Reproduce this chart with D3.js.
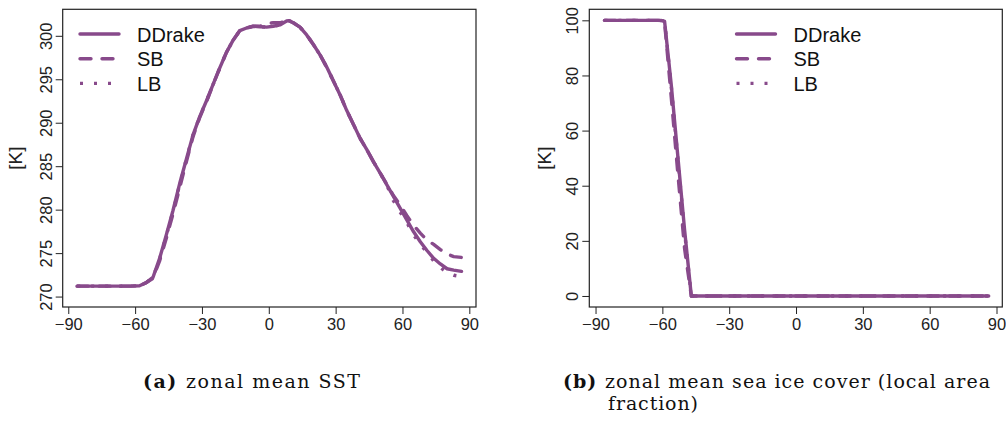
<!DOCTYPE html>
<html>
<head>
<meta charset="utf-8">
<script src="https://cdn.jsdelivr.net/npm/d3@7"></script>
<style>
  body { margin: 0; background: #fff; }
  svg { display: block; }
  .tick text { font-family: "Liberation Sans", Arial, sans-serif; font-size: 16.5px; fill: #222; }
  .tick line { stroke: #222; }
</style>
</head>
<body>
<div class="chart"></div>
<script>
// latitude grid for the zonal mean SST
var sstLat = [-86, -80, -74, -68, -62, -58, -55, -52, -49, -46, -43, -40, -37, -34, -31, -28, -25, -22, -19, -16, -13, -10, -7, -4, -1, 2, 5, 8, 9, 11, 14, 17, 20, 23, 26, 29, 32, 35, 38, 41, 44, 47, 50, 53, 56, 59, 62, 65, 68, 71, 74, 77, 80, 83, 86.5];
var sstDDrake = [271.2, 271.2, 271.2, 271.2, 271.2, 271.25, 271.6, 272.2, 274.4, 277.1, 279.9, 283.0, 285.8, 288.6, 290.7, 292.5, 294.4, 296.3, 298.1, 299.5, 300.6, 300.9, 301.1, 301.05, 301.0, 301.1, 301.25, 301.7, 301.75, 301.5, 301.0, 300.1, 299.0, 297.8, 296.4, 294.8, 293.2, 291.4, 289.8, 288.2, 286.9, 285.5, 284.2, 282.85, 281.5, 280.15, 278.8, 277.45, 276.3, 275.3, 274.4, 273.75, 273.2, 273.05, 272.9];
var sstSB = [271.2, 271.2, 271.2, 271.2, 271.2, 271.25, 271.6, 272.1, 274.1, 276.7, 279.5, 282.5, 285.5, 288.4, 290.6, 292.4, 294.4, 296.3, 298.1, 299.5, 300.6, 300.9, 301.1, 301.1, 301.4, 301.5, 301.5, 301.7, 301.75, 301.5, 301.0, 300.1, 299.0, 297.8, 296.4, 294.8, 293.2, 291.4, 289.8, 288.2, 286.9, 285.5, 284.2, 282.9, 281.6, 280.5, 279.3, 278.2, 277.3, 276.5, 276.0, 275.4, 274.9, 274.6, 274.5];
var sstLB = [271.2, 271.2, 271.2, 271.2, 271.2, 271.25, 271.6, 272.2, 274.3, 277.0, 279.8, 282.9, 285.8, 288.6, 290.7, 292.5, 294.4, 296.3, 298.1, 299.5, 300.6, 300.9, 301.1, 301.05, 301.0, 301.1, 301.25, 301.7, 301.75, 301.5, 301.0, 300.1, 299.0, 297.8, 296.4, 294.8, 293.2, 291.4, 289.8, 288.2, 286.9, 285.5, 284.2, 282.8, 281.0, 279.7, 278.5, 277.1, 276.0, 275.1, 274.1, 273.35, 272.75, 272.45, 272.3];

// latitude grid for the zonal mean sea ice cover
var iceLat = [-86, -80, -74, -68, -62, -60, -59, -56, -53, -50, -47, -44, -30, 0, 30, 60, 86.5];
var iceDDrake = [100, 100, 100, 100, 100, 99.9, 99.6, 76.6, 50.2, 23.8, 0, 0, 0, 0, 0, 0, 0];
var iceSB = [100, 100, 100, 100, 100, 99.9, 99.3, 72, 44, 17, 0, 0, 0, 0, 0, 0, 0];
var iceLB = [100, 100, 100, 100, 100, 99.9, 99.6, 76, 49.5, 23, 0, 0, 0, 0, 0, 0, 0];

var latTicks = [-90, -60, -30, 0, 30, 60, 90];
var sstTicks = [270, 275, 280, 285, 290, 295, 300];
var iceTicks = [0, 20, 40, 60, 80, 100];
var seriesNames = ["DDrake", "SB", "LB"];

var width = 1006, height = 423;
var col = "#884a8b";
var dashes = [null, "11,11", "3,11"];
var caps = ["round", "round", "butt"];

function build_svg(c) {
    return c.append("svg").attr("width", width).attr("height", height);
}

function fmt(d) {
    return d < 0 ? "\u2212" + Math.abs(d) : String(d);
}

function build_panel(s, p) {
    var x = d3.scaleLinear().domain(p.xdom).range([p.left, p.right]);
    var y = d3.scaleLinear().domain(p.ydom).range([p.bottom, p.top]);
    var g = s.append("g");

    // axes (R style, ticks outside the box)
    var xa = g.append("g")
        .attr("transform", "translate(0," + p.bottom + ")")
        .call(d3.axisBottom(x).tickValues(latTicks).tickSize(7).tickFormat(fmt));
    xa.select(".domain").remove();
    xa.selectAll(".tick text").attr("y", 23).attr("dy", 0);

    var ya = g.append("g")
        .attr("transform", "translate(" + p.left + ",0)")
        .call(d3.axisLeft(y).tickValues(p.yticks).tickSize(7));
    ya.select(".domain").remove();
    ya.selectAll(".tick text")
        .attr("transform", "rotate(-90)")
        .attr("x", 0).attr("dy", 0)
        .attr("y", -11)
        .attr("text-anchor", "middle");

    g.append("text")
        .attr("transform", "translate(" + p.labX + "," + ((p.top + p.bottom) / 2) + ") rotate(-90)")
        .attr("text-anchor", "middle")
        .style("font-family", "Liberation Sans, Arial, sans-serif")
        .style("font-size", "19px").style("fill", "#222")
        .text("[K]");

    // box
    g.append("rect")
        .attr("x", p.left).attr("y", p.top)
        .attr("width", p.right - p.left).attr("height", p.bottom - p.top)
        .attr("fill", "none").attr("stroke", "#222").attr("stroke-width", 1.2);

    var line = d3.line()
        .x(function(d) { return x(d[0]); })
        .y(function(d) { return y(d[1]); });

    p.series.forEach(function(vals, i) {
        var pts = p.lat.map(function(l, j) { return [l, vals[j]]; });
        g.append("path")
            .datum(pts)
            .attr("d", line)
            .attr("fill", "none")
            .attr("stroke", col)
            .attr("stroke-width", 3.4)
            .attr("stroke-linejoin", "round")
            .attr("stroke-linecap", caps[i])
            .attr("stroke-dasharray", dashes[i]);
    });

    // legend
    var leg = g.selectAll(".leg").data(seriesNames).enter().append("g")
        .attr("class", "leg")
        .attr("transform", function(d, i) { return "translate(0," + (34 + i * 24.7) + ")"; });
    leg.append("line")
        .attr("x1", p.legX).attr("x2", p.legX + 39)
        .attr("stroke", col).attr("stroke-width", 3.4)
        .attr("stroke-linecap", function(d, i) { return caps[i]; })
        .attr("stroke-dasharray", function(d, i) { return dashes[i]; });
    leg.append("text")
        .attr("x", p.legX + 57).attr("y", 7.5)
        .style("font-family", "Liberation Sans, Arial, sans-serif")
        .style("font-size", "20px").style("fill", "#111")
        .text(function(d) { return d; });
}

function caption(s, x, y, len, bold, rest) {
    var t = s.append("text")
        .attr("x", x).attr("y", y)
        .attr("textLength", len)
        .style("font-family", "DejaVu Serif, serif")
        .style("font-size", "19px").style("fill", "#111");
    if (bold) t.append("tspan").style("font-weight", "bold").text(bold + " ");
    t.append("tspan").text(rest);
}

function main() {
    var svg = build_svg(d3.select(".chart"));
    svg.append("rect").attr("width", width).attr("height", height).attr("fill", "#fff");

    build_panel(svg, {
        left: 62.7, right: 476, top: 9.3, bottom: 307,
        xdom: [-92.5, 93.0], ydom: [268.8, 303.05],
        yticks: sstTicks, labX: 22, legX: 80,
        lat: sstLat, series: [sstDDrake, sstSB, sstLB]
    });
    build_panel(svg, {
        left: 589.3, right: 1002.3, top: 9.3, bottom: 307,
        xdom: [-92.8, 92.6], ydom: [-4, 104],
        yticks: iceTicks, labX: 551, legX: 736.5,
        lat: iceLat, series: [iceDDrake, iceSB, iceLB]
    });

    caption(svg, 143, 388, 217, "(a)", "zonal mean SST");
    caption(svg, 563, 388, 427, "(b)", "zonal mean sea ice cover (local area");
    caption(svg, 608, 410, 90, null, "fraction)");
}

main();
</script>
</body>
</html>
